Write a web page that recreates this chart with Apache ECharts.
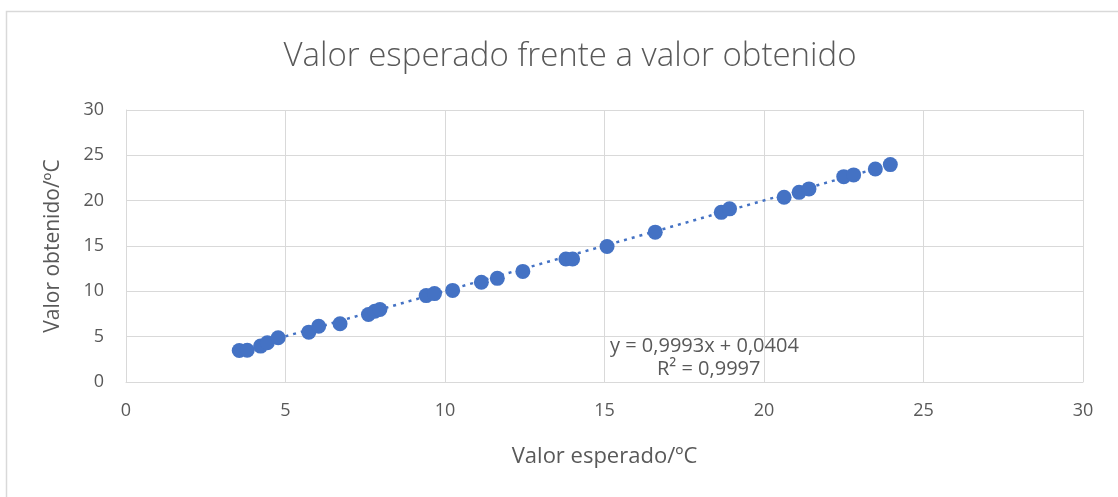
<!DOCTYPE html>
<html>
<head>
<meta charset="utf-8">
<script src="https://cdn.jsdelivr.net/npm/echarts@6/dist/echarts.min.js"></script>
<style>
  html, body { margin: 0; padding: 0; background: #fff; }
  #chart { width: 1118px; height: 497px; }
</style>
</head>
<body>
<div id="chart"></div>
<script>
// valores (x = esperado, y = obtenido)
const esperado = [3.55, 3.8, 4.22, 4.43, 4.77, 5.73, 6.04, 6.71, 7.6, 7.8, 7.96, 9.41, 9.67,
  10.24, 11.14, 11.64, 12.44, 13.79, 14.0, 15.08, 16.59, 18.66, 18.92, 20.63, 21.1, 21.41,
  22.5, 22.81, 23.49, 23.96];
const obtenido = [3.48, 3.5, 3.96, 4.33, 4.88, 5.5, 6.15, 6.42, 7.44, 7.8, 7.99, 9.53, 9.75,
  10.1, 11.0, 11.43, 12.2, 13.56, 13.56, 14.95, 16.53, 18.71, 19.1, 20.37, 20.92, 21.3,
  22.65, 22.84, 23.5, 23.98];
const pendiente = 0.9993;
const ordenada = 0.0404;
const ecuacion = "y = 0,9993x + 0,0404";
const r2 = "R² = 0,9997";

const gris = "#595959";
const azul = "#4472C4";
const fuente = "'Open Sans', sans-serif";

const puntos = esperado.map((x, i) => [x, obtenido[i]]);
const xMin = Math.min(...esperado);
const xMax = Math.max(...esperado);
const tendencia = [
  [xMin, pendiente * xMin + ordenada],
  [xMax, pendiente * xMax + ordenada],
];

const myChart = echarts.init(document.getElementById("chart"));

const option = {
  animation: false,
  backgroundColor: "#fff",
  title: {
    text: "Valor esperado frente a valor obtenido",
    left: 565,
    textAlign: "center",
    top: 35,
    textStyle: { fontFamily: fuente, fontWeight: 300, fontSize: 33, color: gris },
  },
  grid: { left: 126, right: 35, top: 110, bottom: 115 },
  xAxis: {
    type: "value",
    min: 0,
    max: 30,
    interval: 5,
    name: "Valor esperado/ºC",
    nameLocation: "middle",
    nameGap: 64,
    nameTextStyle: { fontFamily: fuente, fontSize: 22, color: gris },
    axisLine: { show: true, lineStyle: { color: "#d9d9d9" } },
    axisTick: { show: false },
    axisLabel: { fontFamily: fuente, fontSize: 18, color: gris, margin: 20 },
    splitLine: { show: true, lineStyle: { color: "#d9d9d9", width: 1 } },
  },
  yAxis: {
    type: "value",
    min: 0,
    max: 30,
    interval: 5,
    name: "Valor obtenido/ºC",
    nameLocation: "middle",
    nameGap: 62,
    nameTextStyle: { fontFamily: fuente, fontSize: 21, color: gris },
    axisLine: { show: true, lineStyle: { color: "#d9d9d9" } },
    axisTick: { show: false },
    axisLabel: { fontFamily: fuente, fontSize: 18, color: gris, margin: 22 },
    splitLine: { show: true, lineStyle: { color: "#d9d9d9", width: 1 } },
  },
  graphic: [
    {
      type: "rect",
      shape: { x: 6.5, y: 11.5, width: 1200, height: 600 },
      style: { fill: "none", stroke: "#d9d9d9", lineWidth: 1.5 },
      silent: true,
    },
    {
      type: "text",
      left: 610,
      top: 336,
      style: { text: ecuacion, fontFamily: fuente, fontSize: 20, fill: gris },
    },
    {
      type: "text",
      left: 657,
      top: 359,
      style: { text: r2, fontFamily: fuente, fontSize: 20, fill: gris },
    },
  ],
  series: [
    {
      name: "tendencia",
      type: "line",
      data: tendencia,
      symbol: "none",
      z: 1,
      lineStyle: { color: azul, width: 2.5, type: [3, 5] },
    },
    {
      name: "datos",
      type: "scatter",
      data: puntos,
      symbolSize: 15,
      z: 2,
      itemStyle: { color: azul, opacity: 1 },
    },
  ],
};

option && myChart.setOption(option);
</script>
</body>
</html>
